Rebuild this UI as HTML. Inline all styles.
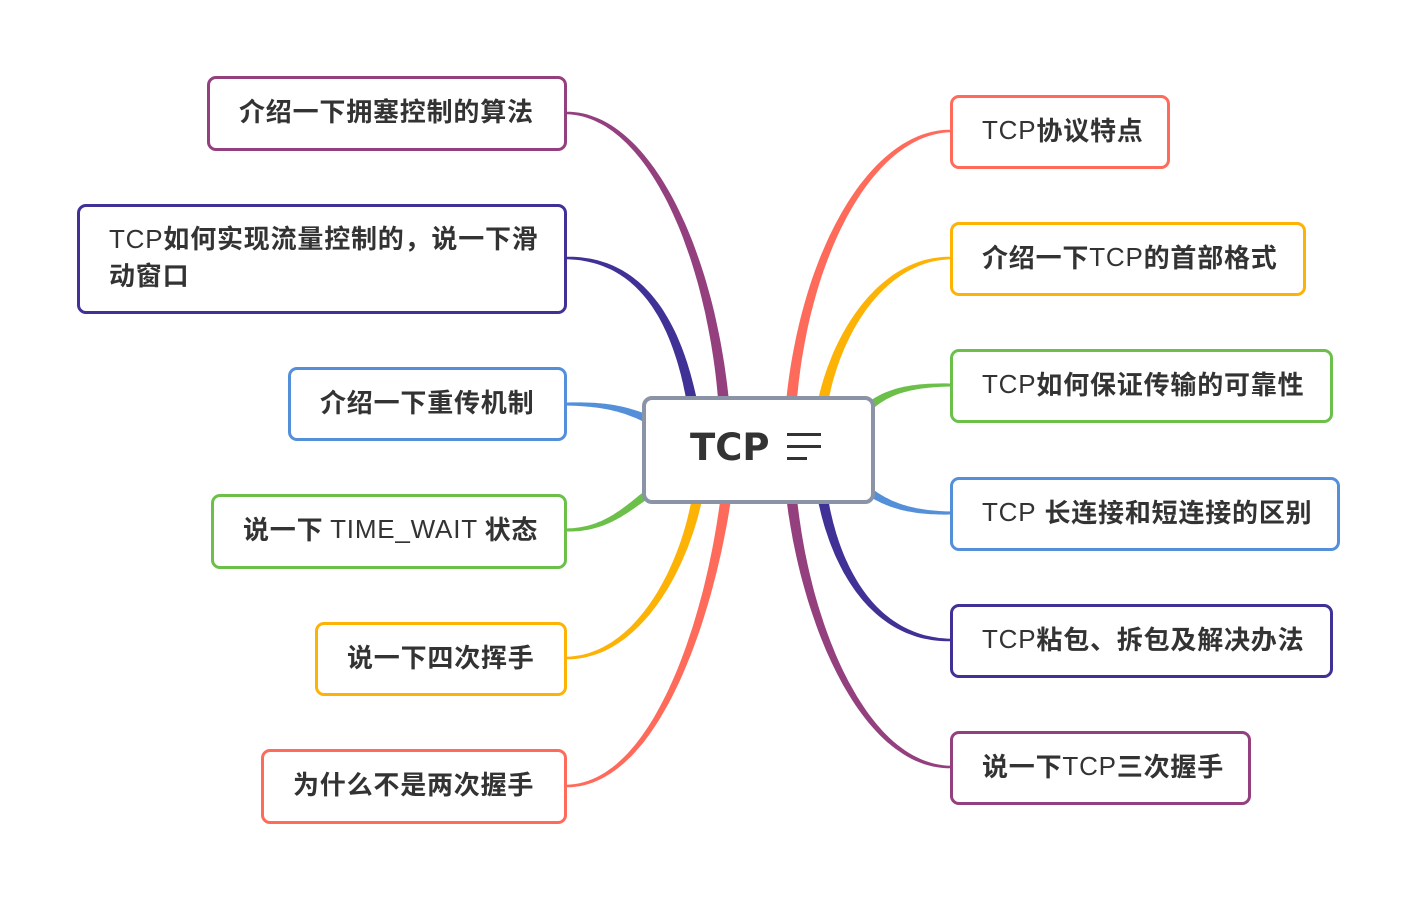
<!DOCTYPE html>
<html><head><meta charset="utf-8"><style>
body{margin:0;width:1414px;height:898px;background:#fff;position:relative;overflow:hidden;font-family:"Liberation Sans","Noto Sans CJK SC",sans-serif}
.b{position:absolute;box-sizing:border-box;border:3.5px solid;border-radius:9px;background:#fff;color:#333;font-size:26px;letter-spacing:0.8px;font-weight:bold;display:flex;align-items:center;padding-left:29px;padding-bottom:5px;line-height:36px;font-family:"Noto Sans CJK SC","Liberation Sans",sans-serif}
.b span{font-weight:normal;font-family:"Liberation Sans",sans-serif;font-size:26px}
svg{position:absolute;left:0;top:0}
</style></head><body>
<svg id="s" width="1414" height="898"></svg>
<div class="b" style="left:207px;top:76px;width:360px;height:75px;border-color:#94407f">介绍一下拥塞控制的算法</div>
<div class="b" style="left:77px;top:204px;width:490px;height:110px;border-color:#3f3196"><div><span>TCP</span>如何实现流量控制的，说一下滑<br>动窗口</div></div>
<div class="b" style="left:288px;top:367px;width:279px;height:74px;border-color:#5390d9">介绍一下重传机制</div>
<div class="b" style="left:211px;top:494px;width:356px;height:75px;border-color:#6cc04a">说一下&nbsp;<span>TIME_WAIT</span>&nbsp;状态</div>
<div class="b" style="left:315px;top:622px;width:252px;height:74px;border-color:#fdb306">说一下四次挥手</div>
<div class="b" style="left:261px;top:749px;width:306px;height:75px;border-color:#ff6b5b">为什么不是两次握手</div>
<div class="b" style="left:950px;top:95px;width:220px;height:74px;border-color:#ff6b5b"><span>TCP</span>协议特点</div>
<div class="b" style="left:950px;top:222px;width:356px;height:74px;border-color:#fdb306">介绍一下<span>TCP</span>的首部格式</div>
<div class="b" style="left:950px;top:349px;width:383px;height:74px;border-color:#6cc04a"><span>TCP</span>如何保证传输的可靠性</div>
<div class="b" style="left:950px;top:477px;width:390px;height:74px;border-color:#5390d9"><span>TCP&nbsp;</span>长连接和短连接的区别</div>
<div class="b" style="left:950px;top:604px;width:383px;height:74px;border-color:#3f3196"><span>TCP</span>粘包、拆包及解决办法</div>
<div class="b" style="left:950px;top:731px;width:301px;height:74px;border-color:#94407f">说一下<span>TCP</span>三次握手</div>
<div style="position:absolute;left:642px;top:396px;width:233px;height:108px;box-sizing:border-box;border:4px solid #8a94a6;border-radius:10px;background:#fff"></div>
<div style="position:absolute;left:690px;top:426px;font-size:37px;font-weight:bold;color:#333;font-family:'DejaVu Sans','Liberation Sans',sans-serif">TCP</div>
<div style="position:absolute;left:787px;top:433px;width:34px;height:3px;background:#333"></div>
<div style="position:absolute;left:787px;top:445px;width:34px;height:3px;background:#333"></div>
<div style="position:absolute;left:787px;top:457px;width:20px;height:3px;background:#333"></div>
<script>
var s=document.getElementById('s');
function bz(p,t){var u=1-t;return [u*u*u*p[0]+3*u*u*t*p[2]+3*u*t*t*p[4]+t*t*t*p[6],u*u*u*p[1]+3*u*u*t*p[3]+3*u*t*t*p[5]+t*t*t*p[7]];}
function c(p,col,w0,w1){var L=[],R=[],N=60;for(var i=0;i<=N;i++){var t=i/N,a=bz(p,Math.max(0,t-0.001)),b=bz(p,Math.min(1,t+0.001)),m=bz(p,t);var dx=b[0]-a[0],dy=b[1]-a[1],l=Math.hypot(dx,dy)||1;var w=(w0+(w1-w0)*t)/2;L.push([m[0]-dy/l*w,m[1]+dx/l*w]);R.unshift([m[0]+dy/l*w,m[1]-dx/l*w]);}
var d='M'+L.concat(R).map(function(q){return q[0].toFixed(1)+','+q[1].toFixed(1)}).join('L')+'Z';
var e=document.createElementNS('http://www.w3.org/2000/svg','path');e.setAttribute('d',d);e.setAttribute('fill',col);s.appendChild(e);}
c([566,113,650,113,715,260,725,420],'#94407f',2.5,11);
c([566,258,640,258,680,320,695,420],'#3f3196',2.5,11);
c([566,404,610,404,630,410,660,425],'#5390d9',3,9);
c([566,530,610,530,630,505,660,485],'#6cc04a',3,9);
c([566,658,640,658,690,560,700,480],'#fdb306',2.5,11);
c([566,786,660,786,715,600,728,480],'#ff6b5b',2.5,11);
c([951,131,870,131,800,260,790,420],'#ff6b5b',2.5,11);
c([951,258,880,258,830,340,820,420],'#fdb306',2.5,11);
c([951,385,900,385,880,395,860,415],'#6cc04a',3,9);
c([951,513,900,513,880,500,860,485],'#5390d9',3,9);
c([951,640,870,640,830,560,820,480],'#3f3196',2.5,11);
c([951,767,860,767,800,610,790,480],'#94407f',2.5,11);
</script>
</body></html>
